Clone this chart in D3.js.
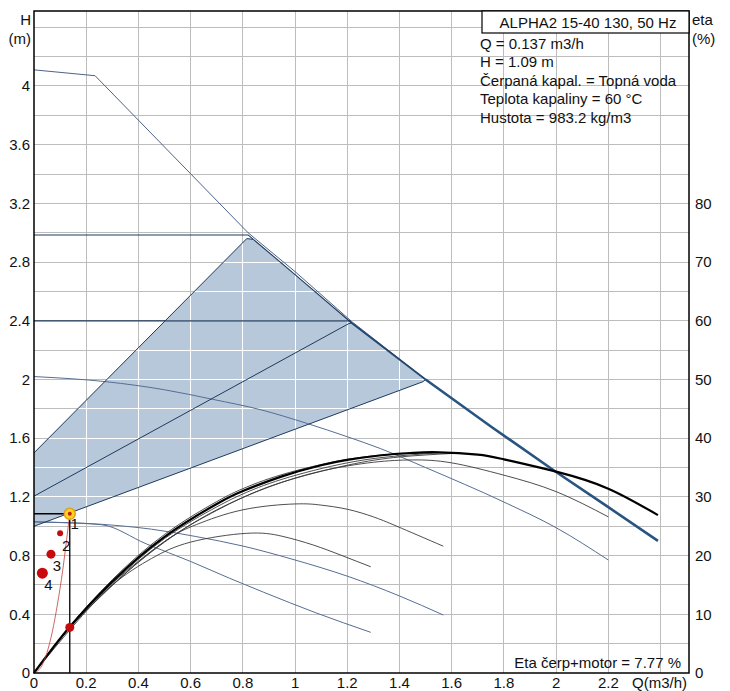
<!DOCTYPE html>
<html><head><meta charset="utf-8">
<script src="https://cdn.jsdelivr.net/npm/d3@7/dist/d3.min.js"></script>
<style>
body{margin:0;background:#fff}
text{font-family:"Liberation Sans",Arial,sans-serif;font-size:15px;fill:#111}
</style>
</head><body>
<svg id="c" width="730" height="691"></svg>
<script>
// ---------- data ----------
const xTickLabels = [0,0.2,0.4,0.6,0.8,1,1.2,1.4,1.6,1.8,2,2.2];
const yTickLabels = [0,0.4,0.8,1.2,1.6,2,2.4,2.8,3.2,3.6,4];
const etaTickLabels = [0,10,20,30,40,50,60,70,80];
const xGrid = [0.2,0.4,0.6,0.8,1,1.2,1.4,1.6,1.8,2,2.2,2.4];
const yGrid = [0.2,0.4,0.6,0.8,1,1.2,1.4,1.6,1.8,2,2.2,2.4,2.6,2.8,3,3.2,3.4,3.6,3.8,4,4.2,4.4];

// max curve (thin)
const maxQ = [0,0.234,0.82,1.0,1.217,1.5,1.75,2.0,2.2,2.39];
const maxH = [4.11,4.07,3.0,2.735,2.395,2.0,1.68,1.37,1.13,0.90];
// envelope followed by the control curves
const envQ = [0.84,1.0,1.217,1.5,1.75,2.0,2.2,2.39];
const envH = [2.955,2.715,2.385,2.0,1.68,1.37,1.13,0.90];
// proportional / constant pressure curves (start part)
const pp3Q = [0,0.815], pp3H = [1.5,2.96];
const pp2Q = [0,1.205], pp2H = [1.205,2.38];
const pp1Q = [0,1.49],  pp1H = [1.0,1.985];
const cp3Q = [0,0.82],  cp3H = [2.985,2.985];
const cp2Q = [0,1.21],  cp2H = [2.4,2.4];
// fixed speed curves
const sp2Q = [0,0.276,0.5,0.684,0.866,1.047,1.2,1.326,1.5,1.8,2.0,2.2];
const sp2H = [2.02,1.985,1.93,1.865,1.795,1.70,1.61,1.53,1.40,1.165,0.99,0.77];
const sp1Q = [0,0.26,0.45,0.62,0.8,1.0,1.2,1.4,1.568];
const sp1H = [1.03,1.013,0.98,0.93,0.865,0.77,0.66,0.525,0.395];
const minQ = [0,0.1,0.26,0.43,0.6,0.75,0.88,1.08,1.29];
const minH = [1.03,1.025,1.01,0.88,0.76,0.645,0.55,0.41,0.277];

// efficiency curves (%)
const etaMaxQ = [0,0.134,0.3,0.5,0.7,0.8,0.95,1.1,1.2,1.33,1.45,1.55,1.7,1.8,2.0,2.2,2.39];
const etaMaxV = [0,7.7,15.6,23.2,28.8,31.0,33.5,35.4,36.3,37.1,37.5,37.6,37.2,36.4,34.3,31.4,26.9];
const etaB1Q = [0,0.134,0.3,0.5,0.7,0.8,0.95,1.2,1.4,1.55];
const etaB1V = [0,7.8,15.9,23.6,29.2,31.4,33.8,36.4,37.3,37.6];
const etaB2Q = [0,0.134,0.3,0.5,0.7,0.8,0.95,1.2,1.4,1.55];
const etaB2V = [0,7.6,15.3,22.9,28.3,30.5,33.0,35.8,37.0,37.5];
const etaB3Q = [0,0.134,0.3,0.5,0.7,0.8,0.95,1.2,1.4,1.6];
const etaB3V = [0,7.5,14.9,22.4,27.7,29.9,32.5,35.4,36.8,37.4];
const etaSp2Q = [0,0.15,0.3,0.5,0.7,0.9,1.1,1.3,1.45,1.6,1.8,2.0,2.2];
const etaSp2V = [0,8.0,15.0,22.3,27.8,31.7,34.4,35.9,36.3,35.8,33.7,30.9,26.6];
const etaSp1Q = [0,0.134,0.3,0.5,0.623,0.8,1.0,1.1,1.2,1.3,1.39,1.568];
const etaSp1V = [0,7.7,15.3,22.4,25.3,27.8,28.8,28.6,27.9,26.6,25.0,21.6];
const etaMinQ = [0,0.134,0.3,0.45,0.6,0.815,0.95,1.07,1.18,1.29];
const etaMinV = [0,7.6,15.0,19.5,22.3,23.8,23.3,21.8,20.0,18.1];

// operating point and markers
const opQ = 0.137, opH = 1.085, opEta = 7.77;
const sysQ = [0,0.03,0.05,0.07,0.09,0.11,0.125,0.137];
const sysH = [0,0.05,0.14,0.28,0.47,0.70,0.91,1.085];
const ptLabels = ["2","3","4"];
const ptQ = [0.10,0.065,0.032];
const ptH = [0.952,0.81,0.68];
const ptR = [3,4.5,5.5];

const titleText = "ALPHA2 15-40 130, 50 Hz";
const infoLines = ["Q = 0.137 m3/h","H = 1.09 m","Čerpaná kapal. = Topná voda","Teplota kapaliny = 60 °C","Hustota = 983.2 kg/m3"];
const etaText = "Eta čerp+motor = 7.77 %";

// ---------- drawing ----------
const svg = d3.select("#c");
const L=34, R=689, T=11, B=673;
const x = d3.scaleLinear([0,2.509],[L,R]);
const y = d3.scaleLinear([0,4.511],[B,T]);
const ye = d3.scaleLinear([0,112.78],[B,T]);
const zip = (a,b)=>a.map((v,i)=>[v,b[i]]);
const lineH = (c)=>d3.line().x(d=>x(d[0])).y(d=>y(d[1])).curve(c||d3.curveLinear);
const lineE = d3.line().x(d=>x(d[0])).y(d=>ye(d[1])).curve(d3.curveNatural);

svg.append("rect").attr("width",730).attr("height",691).attr("fill","#fff");

function grid(g,color){
  g.selectAll(".vx").data(xGrid).join("line").attr("x1",d=>x(d)).attr("x2",d=>x(d)).attr("y1",T).attr("y2",B).attr("stroke",color).attr("stroke-width",1);
  g.selectAll(".hy").data(yGrid).join("line").attr("y1",d=>y(d)).attr("y2",d=>y(d)).attr("x1",L).attr("x2",R).attr("stroke",color).attr("stroke-width",1);
}
const g1 = svg.append("g").attr("shape-rendering","crispEdges");
grid(g1,"#bdbdbd");

// shaded region
const envFrom = (q0)=>zip(envQ,envH).filter(d=>d[0]>=q0-1e-9);
const poly = zip(pp3Q,pp3H).concat(envFrom(0.84).filter(d=>d[0]<=1.5)).concat(zip(pp1Q,pp1H).reverse());
const polyPath = d3.line().x(d=>x(d[0])).y(d=>y(d[1]))(poly)+"Z";
svg.append("clipPath").attr("id","shade").append("path").attr("d",polyPath);
svg.append("path").attr("d",polyPath).attr("fill","#b7c8db");
const g2 = svg.append("g").attr("clip-path","url(#shade)").attr("shape-rendering","crispEdges");
grid(g2,"#ffffff");

// fixed speed curves
const thinBlue = "#566e92";
svg.append("path").attr("d",lineH(d3.curveMonotoneX)(zip(sp2Q,sp2H))).attr("fill","none").attr("stroke",thinBlue).attr("stroke-width",1);
svg.append("path").attr("d",lineH(d3.curveMonotoneX)(zip(sp1Q,sp1H))).attr("fill","none").attr("stroke",thinBlue).attr("stroke-width",1);
svg.append("path").attr("d",lineH(d3.curveMonotoneX)(zip(minQ,minH))).attr("fill","none").attr("stroke",thinBlue).attr("stroke-width",1);
svg.append("path").attr("d",lineH()(zip(maxQ,maxH))).attr("fill","none").attr("stroke","#4d6386").attr("stroke-width",1);

// control curves
const dark = "#1e3a5c";
const ctl = [[cp3Q,cp3H,0.84,1.1],[cp2Q,cp2H,1.217,1.2],[pp3Q,pp3H,0.84,1.0],[pp2Q,pp2H,1.217,1.0],[pp1Q,pp1H,1.5,1.0]];
ctl.forEach(c=>{
  svg.append("path").attr("d",lineH()(zip(c[0],c[1]).concat([envFrom(c[2])[0]]))).attr("fill","none").attr("stroke",dark).attr("stroke-width",c[3]);
});
svg.append("path").attr("d",lineH()(envFrom(0.84).filter(d=>d[0]<=1.217))).attr("fill","none").attr("stroke",dark).attr("stroke-width",1.1);
svg.append("path").attr("d",lineH()(envFrom(1.217).filter(d=>d[0]<=1.5))).attr("fill","none").attr("stroke","#23466e").attr("stroke-width",1.7);
svg.append("path").attr("d",lineH()(envFrom(1.5))).attr("fill","none").attr("stroke","#285482").attr("stroke-width",2.6);

// efficiency curves
[[etaMinQ,etaMinV],[etaSp1Q,etaSp1V],[etaSp2Q,etaSp2V],[etaB1Q,etaB1V],[etaB2Q,etaB2V],[etaB3Q,etaB3V]].forEach(c=>{
  svg.append("path").attr("d",lineE(zip(c[0],c[1]))).attr("fill","none").attr("stroke","#3a3a3a").attr("stroke-width",0.9);
});
svg.append("path").attr("d",lineE(zip(etaMaxQ,etaMaxV))).attr("fill","none").attr("stroke","#000").attr("stroke-width",2.2);

// system curve and operating point
svg.append("path").attr("d",lineH(d3.curveMonotoneX)(zip(sysQ,sysH))).attr("fill","none").attr("stroke","#c04040").attr("stroke-width",0.8);
svg.append("line").attr("x1",L).attr("x2",x(opQ)).attr("y1",y(opH)).attr("y2",y(opH)).attr("stroke","#000").attr("stroke-width",1.3);
svg.append("line").attr("x1",x(opQ)).attr("x2",x(opQ)).attr("y1",y(opH)).attr("y2",B).attr("stroke","#000").attr("stroke-width",1.3);
ptQ.forEach((q,i)=>{
  svg.append("circle").attr("cx",x(q)).attr("cy",y(ptH[i])).attr("r",ptR[i]).attr("fill","#c80a0a");
  svg.append("text").attr("x",x(q)+6).attr("y",y(ptH[i])+12).attr("dy","0.35em").attr("text-anchor","middle").text(ptLabels[i]);
});
svg.append("circle").attr("cx",x(opQ)).attr("cy",y(opH)).attr("r",5.5).attr("fill","#ffd21f").attr("stroke","#e0a020").attr("stroke-width",1.5);
svg.append("circle").attr("cx",x(opQ)).attr("cy",y(opH)).attr("r",2).attr("fill","#c02010");
svg.append("text").attr("x",x(opQ)+5).attr("y",y(opH)+10).attr("dy","0.35em").attr("text-anchor","middle").text("1");
svg.append("circle").attr("cx",x(opQ)).attr("cy",ye(opEta)).attr("r",4.5).attr("fill","#c80a0a");

// frame
svg.append("rect").attr("x",L).attr("y",T).attr("width",R-L).attr("height",B-T).attr("fill","none").attr("stroke","#000").attr("stroke-width",1.5);

// axes labels
const fmt = d=>String(d);
svg.selectAll(".yl").data(yTickLabels).join("text").attr("x",30).attr("y",d=>y(d)).attr("dy","0.35em").attr("text-anchor","end").text(fmt);
svg.selectAll(".xl").data(xTickLabels).join("text").attr("x",d=>x(d)).attr("y",683).attr("dy","0.35em").attr("text-anchor","middle").text(fmt);
svg.selectAll(".el").data(etaTickLabels).join("text").attr("x",695).attr("y",d=>ye(d)).attr("dy","0.35em").attr("text-anchor","start").text(fmt);
svg.append("text").attr("x",632).attr("y",683).attr("dy","0.35em").text("Q(m3/h)");
svg.append("text").attr("x",31).attr("y",20).attr("dy","0.35em").attr("text-anchor","end").text("H");
svg.append("text").attr("x",31).attr("y",39).attr("dy","0.35em").attr("text-anchor","end").text("(m)");
svg.append("text").attr("x",692).attr("y",20).attr("dy","0.35em").text("eta");
svg.append("text").attr("x",692).attr("y",39).attr("dy","0.35em").text("(%)");

// title box and info
svg.append("rect").attr("x",482).attr("y",T).attr("width",R-482).attr("height",22).attr("fill","#fff").attr("stroke","#000").attr("stroke-width",1.2);
svg.append("text").attr("x",588).attr("y",22.5).attr("dy","0.35em").attr("text-anchor","middle").text(titleText);
svg.selectAll(".info").data(infoLines).join("text").attr("x",480).attr("y",(d,i)=>43.3+i*18.5).attr("dy","0.35em").text(d=>d);
svg.append("text").attr("x",681).attr("y",663).attr("dy","0.35em").attr("text-anchor","end").text(etaText);
</script>
</body></html>
